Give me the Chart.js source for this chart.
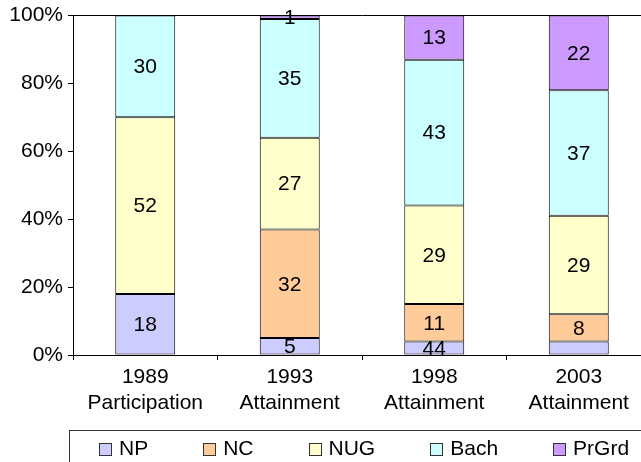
<!DOCTYPE html>
<html>
<head>
<meta charset="utf-8">
<script src="https://cdn.jsdelivr.net/npm/chart.js@4"></script>
<style>
    html, body { margin: 0; padding: 0; overflow: hidden; background: #fff; }
    body { width: 641px; height: 462px; position: relative; font-family: 'Liberation Sans', Arial, sans-serif; }
    #chart { position: absolute; left: 0; top: 0; }
    #legend {
        position: absolute; left: 69px; top: 430px; width: 620px; height: 60px;
        border: 1px solid #333; box-sizing: border-box;
        padding-left: 29px; padding-top: 5px; white-space: nowrap; font-size: 21px; color: #000;
    }
    .item { display: inline-block; margin-right: 55px; line-height: 24px; }
    .box { display: inline-block; width: 11px; height: 11px; border: 1px solid #333; margin-right: 7px; vertical-align: -1px; }
</style>
</head>
<body>
<canvas id="chart" width="651" height="462"></canvas>
<div id="legend"></div>
<script>
const categories = [['1989', 'Participation'], ['1993', 'Attainment'], ['1998', 'Attainment'], ['2003', 'Attainment']];
const seriesNames = ['NP', 'NC', 'NUG', 'Bach', 'PrGrd'];
const npValues = [18, 5, 4, 4];
const ncValues = [0, 32, 11, 8];
const nugValues = [52, 27, 29, 29];
const bachValues = [30, 35, 43, 37];
const prgrdValues = [0, 1, 13, 22];
// label text as printed on the chart (1998 NP shows "44", 2003 NP has none)
const npText = ['18', '5', '44', ''];
const yTicks = [0, 20, 40, 60, 80, 100];

const colors = ['#ccccff', '#ffcc99', '#ffffcc', '#ccffff', '#cc99ff'];
const FONT = "'Liberation Sans', Arial, sans-serif";

const seriesValues = [npValues, ncValues, nugValues, bachValues, prgrdValues];

const datasets = seriesNames.map((name, i) => ({
    label: name,
    data: seriesValues[i],
    backgroundColor: colors[i],
    borderColor: '#000',
    borderWidth: 1,
    borderSkipped: false,
    categoryPercentage: 1,
    barPercentage: 0.415,
    texts: i === 0 ? npText : seriesValues[i].map(v => v ? String(v) : '')
}));

const valueLabels = {
    id: 'valueLabels',
    afterDatasetsDraw(chart) {
        const ctx = chart.ctx;
        ctx.save();
        ctx.font = '21px ' + FONT;
        ctx.fillStyle = '#000';
        ctx.textAlign = 'center';
        ctx.textBaseline = 'middle';
        chart.data.datasets.forEach((ds, di) => {
            const meta = chart.getDatasetMeta(di);
            meta.data.forEach((bar, j) => {
                const t = ds.texts[j];
                if (!t) return;
                ctx.fillText(t, bar.x, (bar.y + bar.base) / 2 + 1);
            });
        });
        ctx.restore();
    }
};

new Chart(document.getElementById('chart'), {
    type: 'bar',
    data: { labels: categories, datasets: datasets },
    options: {
        responsive: false,
        animation: false,
        devicePixelRatio: 1,
        layout: { padding: { top: 13, right: 0, bottom: 0, left: 0 } },
        plugins: { legend: { display: false }, tooltip: { enabled: false } },
        scales: {
            x: {
                stacked: true,
                afterFit: s => { s.height = 107; },
                border: { display: true, color: '#000', width: 1 },
                grid: { color: 'rgba(0,0,0,0)', tickColor: '#000', tickLength: 5, drawOnChartArea: false },
                ticks: { color: '#000', padding: 5, font: { family: FONT, size: 21, lineHeight: 1.2 }, maxRotation: 0 }
            },
            y: {
                stacked: true,
                min: 0,
                max: 100,
                afterFit: s => { s.width = 73; },
                afterBuildTicks: s => { s.ticks = yTicks.map(v => ({ value: v })); },
                border: { display: true, color: '#000', width: 1 },
                grid: {
                    color: c => c.tick && c.tick.value === 100 ? '#000' : 'rgba(0,0,0,0)',
                    tickColor: '#000',
                    tickLength: 5
                },
                ticks: { color: '#000', padding: 5, font: { family: FONT, size: 21, lineHeight: 1 }, callback: v => v + '%' }
            }
        }
    },
    plugins: [valueLabels]
});

const legend = document.getElementById('legend');
seriesNames.forEach((name, i) => {
    const item = document.createElement('span');
    item.className = 'item';
    item.innerHTML = `<span class="box" style="background:${colors[i]}"></span>${name}`;
    legend.appendChild(item);
});
</script>
</body>
</html>
